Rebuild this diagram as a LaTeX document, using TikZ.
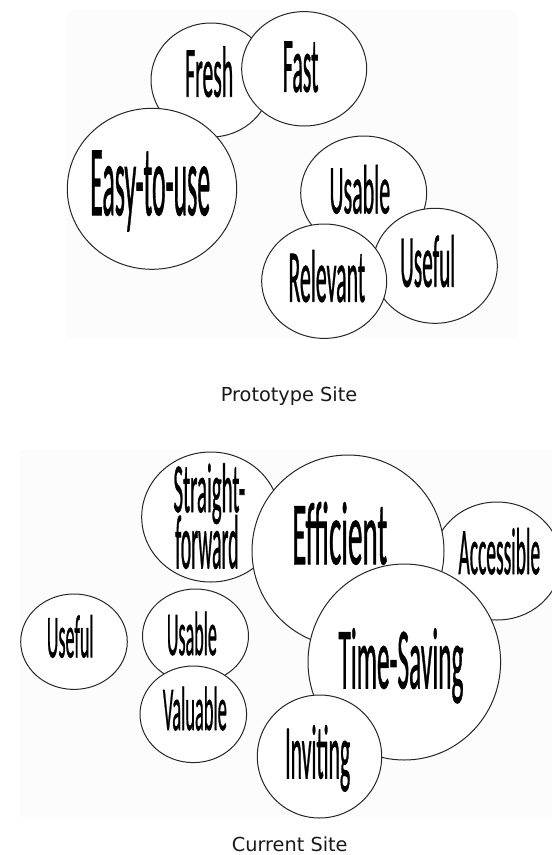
\documentclass[tikz,border=0pt]{standalone}
\usepackage{fontspec}
\usetikzlibrary{shapes.geometric}
\newfontfamily\wordfont[FakeBold=1.2]{Carlito}
\newfontfamily\capfont{DejaVu Sans}
\newcommand{\wrd}[3]{\resizebox{#1pt}{#2pt}{\wordfont #3}}
\tikzset{
  panel/.style={fill=black!1.2, draw=none},
  bub/.style={ellipse, draw=black!85, line width=1pt, fill=white, inner sep=0pt},
  lab/.style={anchor=base west, inner sep=0pt, text=black},
  caption/.style={anchor=base west, inner sep=0pt, text=black!90, font=\capfont\fontsize{19.3}{22}\selectfont}
}
\begin{document}
\begin{tikzpicture}[x=1pt,y=-1pt]
\useasboundingbox (0,0) rectangle (552,855);
\clip (0,0) rectangle (552,855);
% panels
\fill[panel] (67,10) rectangle (517,338);
\fill[panel] (20,450) rectangle (552,817);
% ---- Prototype site ----
\node[bub, minimum width=120pt, minimum height=114pt] (fresh) at (211,80) {};
\node[bub, minimum width=125pt, minimum height=114.4pt] (fast) at (304.2,68.8) {};
\node[bub, minimum width=169.4pt, minimum height=161pt] (easy) at (152,188.8) {};
\node[bub, minimum width=126pt, minimum height=114pt] (usableA) at (363.7,193) {};
\node[bub, minimum width=124.6pt, minimum height=115pt] (usefulA) at (435,265.8) {};
\node[bub, minimum width=125pt, minimum height=114.4pt] (relevant) at (324.2,281.2) {};
\node[lab] (freshT) at (185,96.7) {\wrd{48}{50}{Fresh}};
\node[lab] (fastT) at (282.7,91.7) {\wrd{35.6}{50}{Fast}};
\node[lab] (easyT) at (90,215) {\wrd{120}{64.3}{Easy-to-use}};
\node[lab] (usableAT) at (329.3,213.3) {\wrd{60.7}{48.3}{Usable}};
\node[lab] (usefulAT) at (400,286.7) {\wrd{55}{51.7}{Useful}};
\node[lab] (relevantT) at (288.3,301.7) {\wrd{76.7}{51.7}{Relevant}};
\node[caption] (capA) at (220.7,401) {Prototype Site};
% ---- Current site ----
\node[bub, minimum width=138pt, minimum height=130pt] (straight) at (210.7,517) {};
\node[bub, minimum width=128pt, minimum height=118pt] (access) at (497,561) {};
\node[bub, minimum width=192pt, minimum height=192pt] (effic) at (348,551) {};
\node[bub, minimum width=192.6pt, minimum height=196pt] (timesav) at (404.3,662) {};
\node[bub, minimum width=124.4pt, minimum height=123pt] (inviting) at (319.5,756.5) {};
\node[bub, minimum width=106pt, minimum height=94pt] (usableB) at (195.5,636) {};
\node[bub, minimum width=106.6pt, minimum height=96.6pt] (valuable) at (193.3,714.3) {};
\node[bub, minimum width=106.6pt, minimum height=95.4pt] (usefulB) at (74,641.7) {};
\node[lab] (straightT) at (173.3,512) {\makebox[0pt][l]{\wrd{71.7}{48.7}{Straight-}}\raisebox{-56.3pt}{\hspace{1.7pt}\wrd{63.3}{53.3}{forward}}\hspace{6.7pt}};
\node[lab] (efficT) at (292,564) {\wrd{95}{62}{Efficient}};
\node[lab] (accessT) at (458.3,574) {\wrd{81.7}{46}{Accessible}};
\node[lab] (timesavT) at (338.3,688.3) {\wrd{125}{60}{Time-Saving}};
\node[lab] (invitingT) at (285,778.3) {\wrd{65}{53.3}{Inviting}};
\node[lab] (usableBT) at (166.7,655) {\wrd{50}{43.3}{Usable}};
\node[lab] (valuableT) at (162.7,730) {\wrd{64}{43.3}{Valuable}};
\node[lab] (usefulBT) at (46.7,657.3) {\wrd{46.6}{42.3}{Useful}};
\node[caption] (capB) at (231.7,851.5) {Current Site};
\end{tikzpicture}
\end{document}
